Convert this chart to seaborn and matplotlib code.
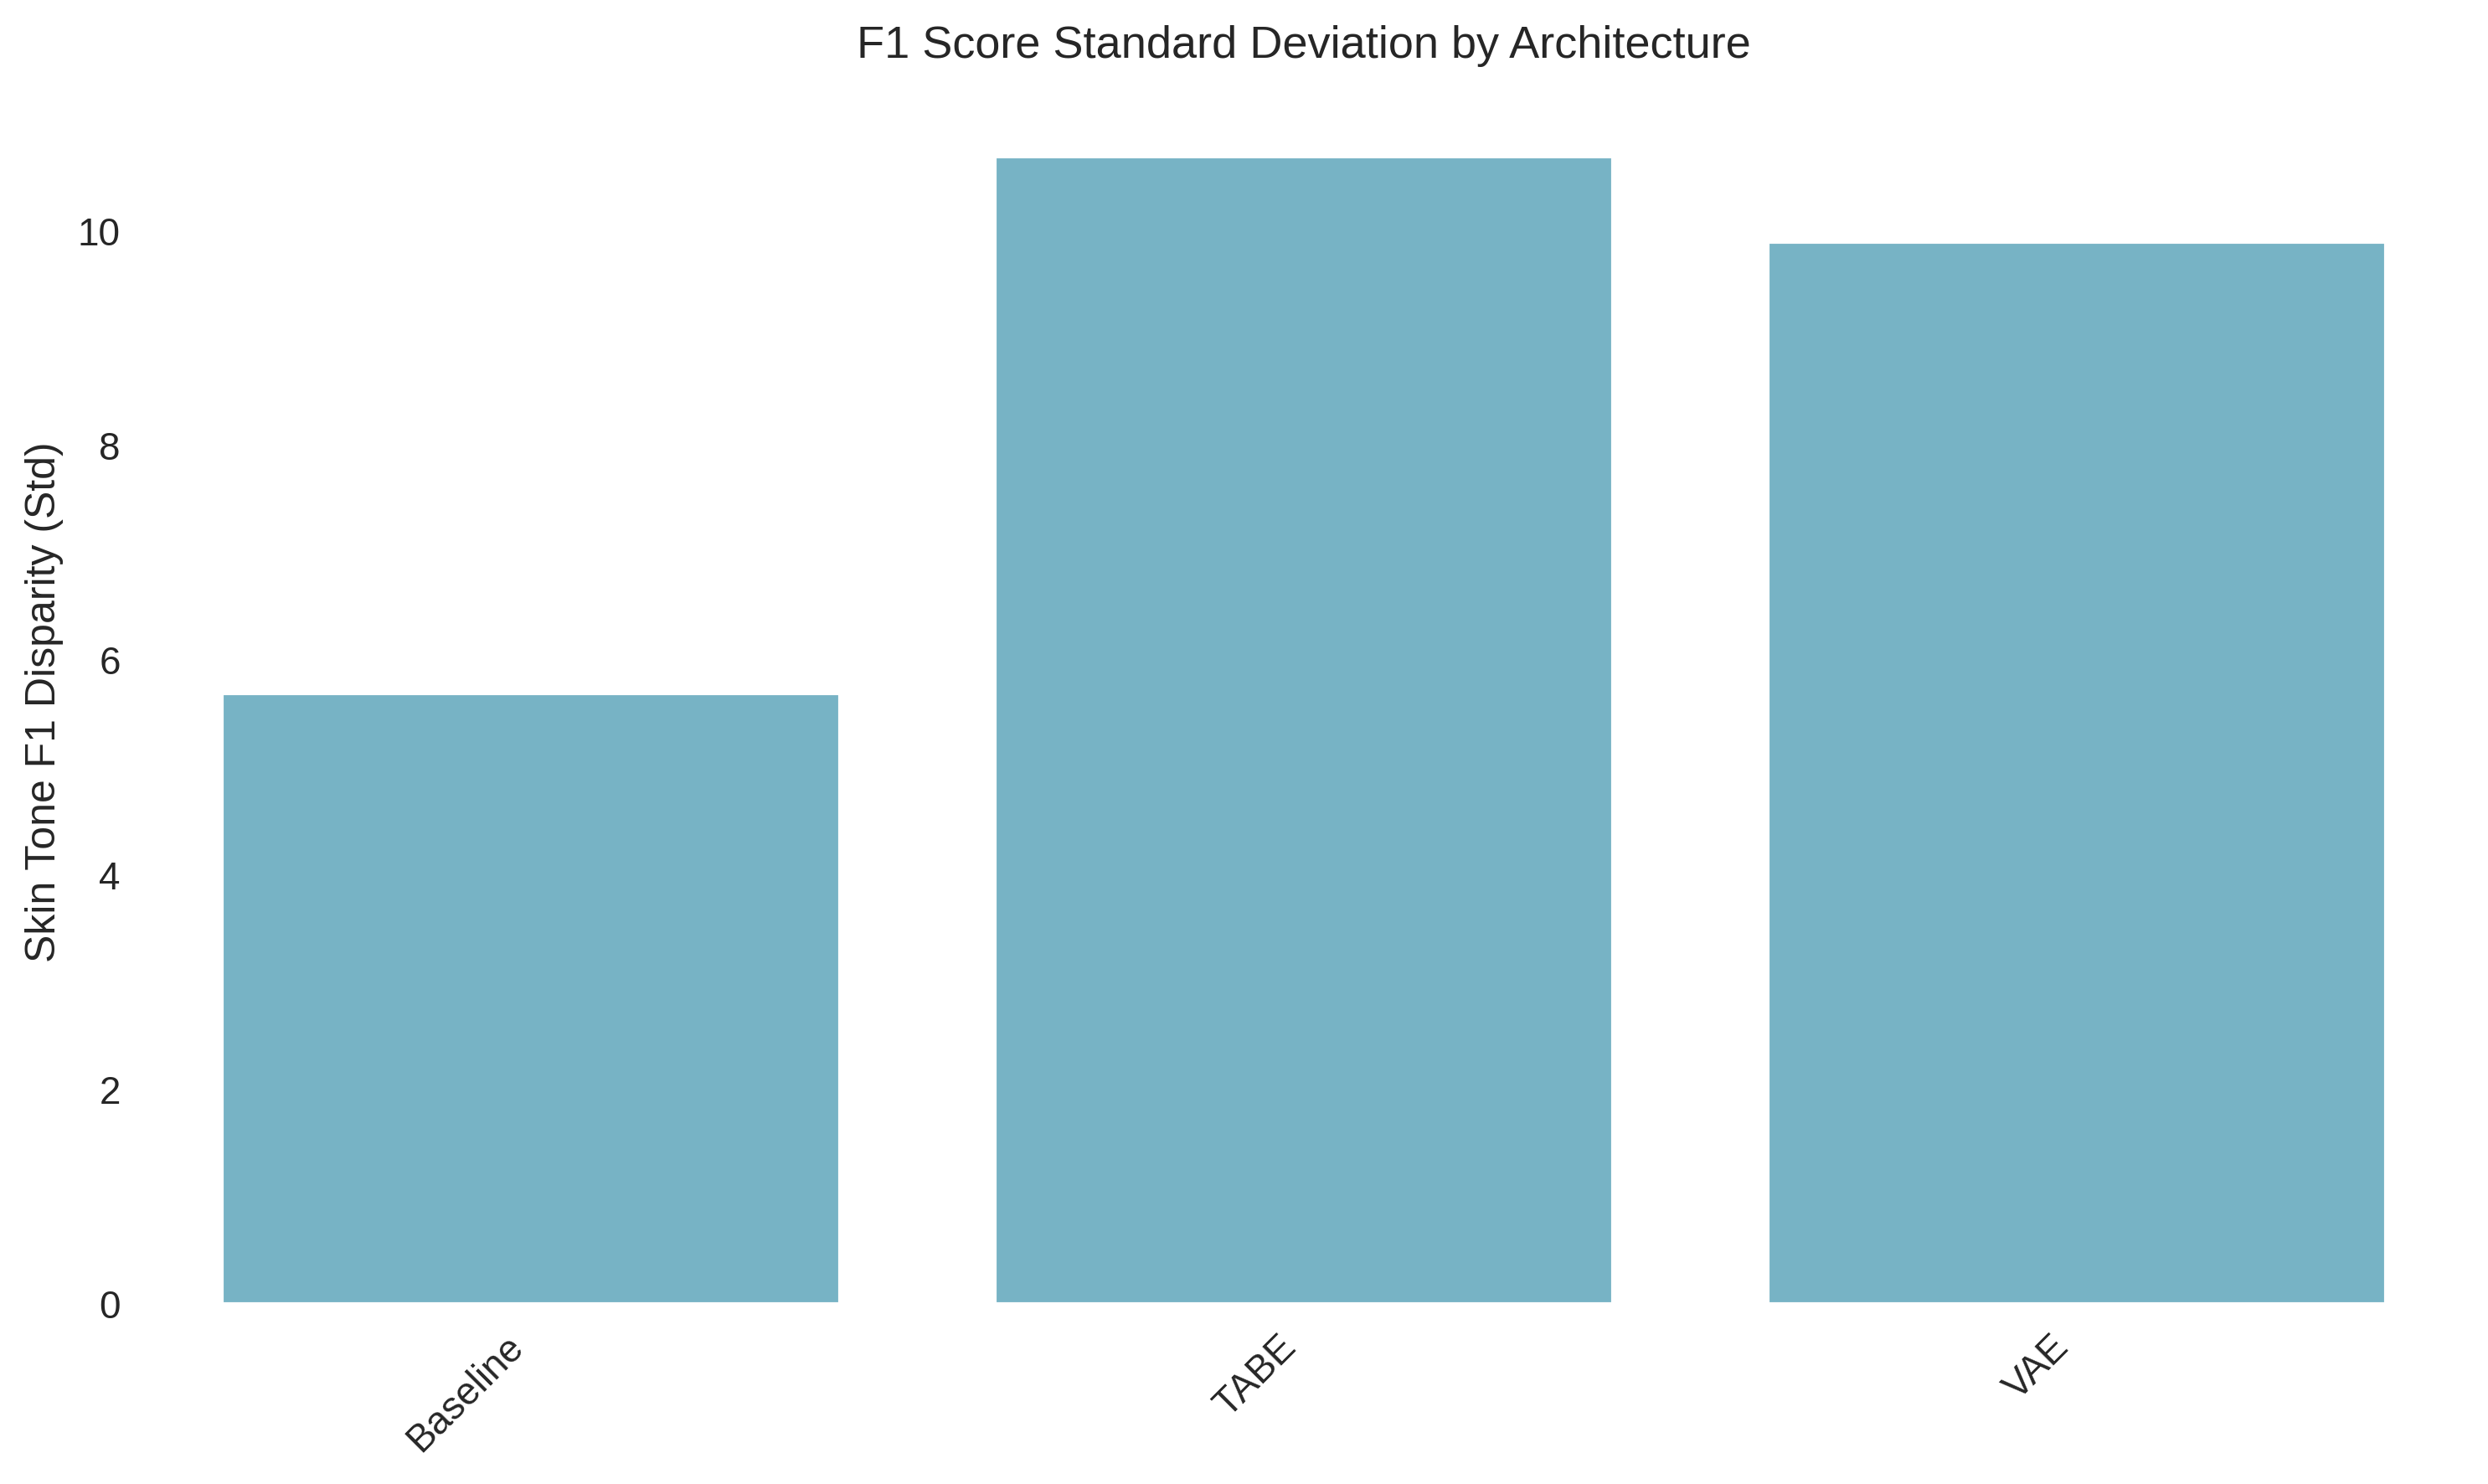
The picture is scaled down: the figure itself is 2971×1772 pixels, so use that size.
import pandas as pd
import matplotlib.pyplot as plt
import seaborn as sns

# Data
architectures = ['Baseline', 'TABE', 'VAE']
f1_std = [5.69, 10.69, 9.90]

df = pd.DataFrame({'Architecture': architectures, 'F1 Std': f1_std})

sns.set_style('white')
plt.rcParams['font.family'] = ['Liberation Sans', 'DejaVu Sans']

fig, ax = plt.subplots(figsize=(10, 6))
sns.barplot(x='Architecture', y='F1 Std', data=df, color='#77b3c5', saturation=1, width=0.8, ax=ax)

ax.set_title('F1 Score Standard Deviation by Architecture', fontsize=13, pad=12)
ax.set_xlabel('')
ax.set_ylabel('Skin Tone F1 Disparity (Std)', fontsize=12)
plt.xticks(rotation=45, ha='right', fontsize=11)
plt.yticks(fontsize=11)
sns.despine(left=True, bottom=True)

plt.tight_layout()
plt.savefig('out.png', dpi=300, bbox_inches='tight')
